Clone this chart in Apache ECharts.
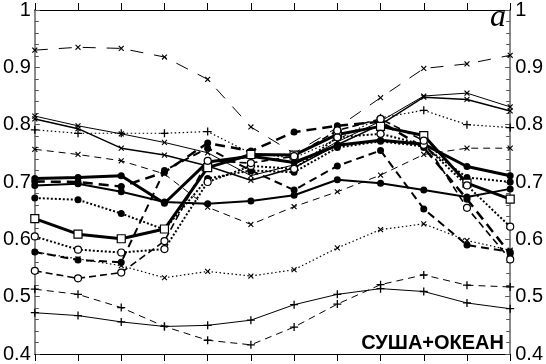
<!DOCTYPE html>
<html><head><meta charset="utf-8">
<script src="https://cdn.jsdelivr.net/npm/echarts@6/dist/echarts.min.js"></script>
<style>html,body{margin:0;padding:0;background:#fff}#c{width:546px;height:364px}</style>
</head><body><div id="c"></div>
<script>
const months = ['1','2','3','4','5','6','7','8','9','10','11','12'];
const yTicks = [0.4, 0.5, 0.6, 0.7, 0.8, 0.9, 1];

// series values
const longDashCross   = [0.930, 0.935, 0.933, 0.918, 0.879, 0.796, 0.750, 0.795, 0.847, 0.898, 0.906, 0.921];
const thinSolidCrossA = [0.815, 0.798, 0.784, 0.769, 0.751, 0.711, 0.730, 0.770, 0.806, 0.850, 0.855, 0.831];
const solidCrossB     = [0.810, 0.793, 0.759, 0.747, 0.728, 0.703, 0.725, 0.765, 0.800, 0.848, 0.844, 0.824];
const dottedPlus      = [0.791, 0.785, 0.785, 0.785, 0.788, 0.750, 0.742, 0.775, 0.812, 0.825, 0.800, 0.795];
const dashedCross     = [0.757, 0.748, 0.737, 0.714, 0.656, 0.626, 0.657, 0.683, 0.712, 0.748, 0.759, 0.759];
const dottedCross     = [0.578, 0.566, 0.554, 0.533, 0.544, 0.536, 0.547, 0.585, 0.617, 0.627, 0.598, 0.581];
const dashedPlus      = [0.513, 0.504, 0.481, 0.448, 0.424, 0.416, 0.447, 0.487, 0.521, 0.538, 0.520, 0.517];
const thinSolidPlus   = [0.472, 0.467, 0.456, 0.448, 0.450, 0.459, 0.486, 0.504, 0.514, 0.509, 0.489, 0.479];
const solidDotFlat    = [0.694, 0.697, 0.683, 0.665, 0.662, 0.667, 0.677, 0.704, 0.698, 0.686, 0.674, 0.688];
const thickSolidDot   = [0.706, 0.708, 0.711, 0.663, 0.735, 0.745, 0.734, 0.764, 0.773, 0.766, 0.727, 0.711];
const heavyDashDot    = [0.701, 0.700, 0.692, 0.717, 0.768, 0.754, 0.787, 0.798, 0.805, 0.760, 0.670, 0.575];
const dashedDot       = [0.578, 0.564, 0.560, 0.720, 0.759, 0.720, 0.686, 0.728, 0.755, 0.653, 0.590, 0.578];
const dottedDot       = [0.672, 0.669, 0.645, 0.617, 0.706, 0.720, 0.717, 0.760, 0.771, 0.762, 0.708, 0.700];
const thickSolidSquare= [0.636, 0.609, 0.601, 0.618, 0.725, 0.748, 0.747, 0.783, 0.797, 0.781, 0.698, 0.670];
const dottedCircle    = [0.605, 0.582, 0.577, 0.583, 0.700, 0.728, 0.723, 0.778, 0.784, 0.765, 0.694, 0.622];
const dashedCircle    = [0.545, 0.532, 0.542, 0.597, 0.737, 0.733, 0.745, 0.790, 0.810, 0.772, 0.655, 0.565];

const PLUS = 'path://M4.2,0H5.8V4.2H10V5.8H5.8V10H4.2V5.8H0V4.2H4.2Z';

function mk(data, o) {
  return {
    type: 'line', data: data, xAxisIndex: 0, yAxisIndex: 0,
    symbol: o.symbol, symbolSize: o.size, symbolRotate: o.rot || 0, showAllSymbol: true,
    lineStyle: { color: '#000', width: o.w, type: o.dash || 'solid', cap: 'butt' },
    itemStyle: { color: o.fill || '#000', borderColor: '#000', borderWidth: o.bw || 0 },
    z: o.z || 2, animation: false, silent: true
  };
}

const series = [
  mk(longDashCross,   {symbol: PLUS, size: 7, rot: 45, w: 1, dash: [13, 11]}),
  mk(thinSolidCrossA, {symbol: PLUS, size: 7, rot: 45, w: 1}),
  mk(solidCrossB,     {symbol: PLUS, size: 7, rot: 45, w: 1.5}),
  mk(dottedPlus,      {symbol: PLUS, size: 8, w: 1.2, dash: [1.5, 2.5]}),
  mk(dashedCross,     {symbol: PLUS, size: 7, rot: 45, w: 1, dash: [7, 5]}),
  mk(dottedCross,     {symbol: PLUS, size: 7, rot: 45, w: 1.2, dash: [1.5, 2.5]}),
  mk(dashedPlus,      {symbol: PLUS, size: 8, w: 1, dash: [7, 5]}),
  mk(thinSolidPlus,   {symbol: PLUS, size: 8, w: 1}),
  mk(solidDotFlat,    {symbol: 'circle', size: 7, w: 2}),
  mk(thickSolidDot,   {symbol: 'circle', size: 7, w: 3}),
  mk(heavyDashDot,    {symbol: 'circle', size: 7, w: 2.5, dash: [10, 6]}),
  mk(dashedDot,       {symbol: 'circle', size: 7, w: 2, dash: [8, 5]}),
  mk(dottedDot,       {symbol: 'circle', size: 7, w: 2, dash: [2, 2]}),
  mk(thickSolidSquare,{symbol: 'rect', size: 8, w: 3, fill: '#fff', bw: 1.2, z: 3}),
  mk(dottedCircle,    {symbol: 'circle', size: 7, w: 2, dash: [2, 2], fill: '#fff', bw: 1.2, z: 3}),
  mk(dashedCircle,    {symbol: 'circle', size: 7, w: 1.6, dash: [7, 4], fill: '#fff', bw: 1.2, z: 3})
];

function yAxisCfg(pos) {
  return {
    type: 'value', position: pos, min: yTicks[0], max: yTicks[yTicks.length - 1], interval: 0.1,
    splitLine: { show: false },
    axisLine: { show: true, onZero: false, lineStyle: { color: '#8a8a8a', width: 2 } },
    axisTick: { show: true, inside: true, length: 5, lineStyle: { color: '#555', width: 1 } },
    minorTick: { show: true, splitNumber: 5, length: 4, lineStyle: { color: '#555', width: 1 } },
    axisLabel: {
      color: '#000', fontSize: 20, fontFamily: 'Liberation Sans, Arial, sans-serif', margin: pos === 'left' ? 4 : 5,
      formatter: v => (Math.abs(v - 1) < 1e-9 ? '1' : v.toFixed(1))
    }
  };
}
function xAxisCfg(pos) {
  return {
    type: 'category', data: months, boundaryGap: false, position: pos,
    axisLine: { show: true, onZero: false, lineStyle: { color: '#000', width: 1 } },
    axisTick: { show: true, inside: false, length: 7, lineStyle: { color: '#000', width: 1 } },
    axisLabel: { show: false }, splitLine: { show: false }
  };
}

const chart = echarts.init(document.getElementById('c'), null, { renderer: 'canvas' });
chart.setOption({
  backgroundColor: '#fff',
  animation: false,
  grid: { left: 34, right: 34, top: 6, bottom: 7, containLabel: false },
  xAxis: [xAxisCfg('bottom'), xAxisCfg('top')],
  yAxis: [yAxisCfg('left'), yAxisCfg('right')],
  series: series,
  graphic: [
    { type: 'text', left: 490, top: 2, style: { text: 'a', font: 'italic 32px "Liberation Serif", "DejaVu Serif", serif', fill: '#000' } },
    { type: 'text', right: 42, top: 333, style: { text: 'СУША+ОКЕАН', font: 'bold 20px "Liberation Sans", Arial, sans-serif', fill: '#000' } }
  ]
});
</script>
</body></html>
